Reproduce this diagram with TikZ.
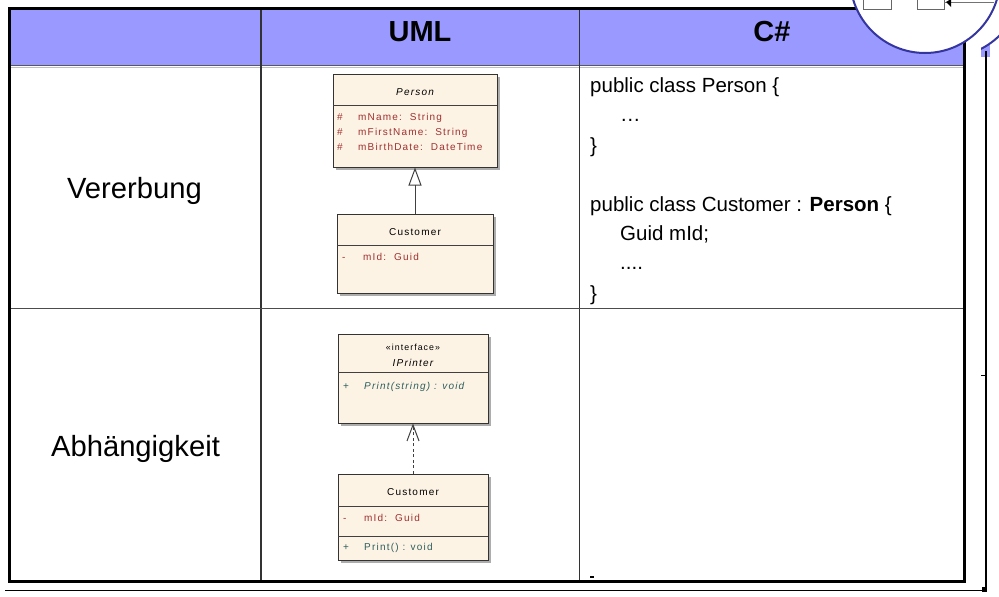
\documentclass[tikz,border=0pt]{standalone}
\usepackage{fontspec}
\setmainfont{Liberation Sans}
\newfontfamily\umlfont[LetterSpace=12]{Liberation Sans}
\usetikzlibrary{arrows.meta}
\definecolor{hdr}{HTML}{9999FF}
\definecolor{boxfill}{HTML}{FCF3E4}
\definecolor{attr}{HTML}{A03030}
\definecolor{oper}{HTML}{2E5E5E}
\definecolor{ring}{HTML}{3535A0}
\newcommand{\vis}[1]{\makebox[21pt][l]{#1}}
\tikzset{
  umlbox/.style={draw=black!80, line width=1pt, fill=boxfill, inner sep=0pt},
  sep/.style={draw=black!75, line width=0.9pt},
  umltxt/.style={inner sep=0pt, font=\umlfont\fontsize{10}{12}\selectfont},
  umlital/.style={inner sep=0pt, font=\umlfont\itshape\fontsize{10}{12}\selectfont},
  umlrow/.style={inner sep=0pt, anchor=base west, font=\umlfont\fontsize{10}{12}\selectfont},
  codetxt/.style={inner sep=0pt, anchor=base west, font=\fontsize{20.5}{24}\selectfont},
  headtxt/.style={inner sep=0pt, font=\bfseries\fontsize{29}{33}\selectfont},
  rowtxt/.style={inner sep=0pt, font=\fontsize{29.2}{33}\selectfont},
  gridline/.style={draw=black!80, line width=1.2pt},
  shadowfill/.style={fill=black!32},
}
\begin{document}
\begin{tikzpicture}[x=1pt,y=-1pt]
\useasboundingbox (0,0) rectangle (999,597);
% header fill
\fill[hdr] (11,10) rectangle (963,65);
\draw[black!65, line width=1.5pt] (11,65.5) -- (963,65.5);
\draw[black!25, line width=1pt] (11,67.3) -- (963,67.3);
% grid lines
\draw[gridline] (261,10) -- (261,580);
\draw[gridline] (579.5,10) -- (579.5,580);
\draw[black!70, line width=1pt] (11,308.5) -- (963,308.5);
% table frame
\draw[black, line width=3pt] (9.5,8.5) rectangle (964.5,581);
% second (shifted) frame at the right
\begin{scope}
  \clip (981,0) rectangle (999,60);
  \fill[hdr] (981,0) rectangle (990,57);
  \draw[ring, line width=2pt, fill=white] (947,-18) circle (75);
\end{scope}
% outer frame
\draw[black, line width=2pt] (986,51) -- (986,591);
\draw[black, line width=1.6pt] (5,590.5) -- (987,590.5);
\fill[black] (982,586.5) rectangle (987,592);
\draw[black, line width=1pt] (981,375) -- (986,375);
\draw[black, line width=1.2pt] (590,577) -- (594,577);
% magnifier circle
\draw[ring, line width=2pt, fill=white] (925,-22) circle (75);
\draw[black!60, line width=1pt, fill=white] (863,-2) rectangle (891,9.5);
\draw[black!60, line width=1pt, fill=white] (917,-2) rectangle (944,9.5);
\draw[black!55, line width=1pt] (944,2) -- (994,2);
\fill[black] (946,2) -- (951,-1) -- (951,7) -- cycle;
% headers
\node[headtxt] (uml) at (420,32) {UML};
\node[headtxt] (cs) at (772,32) {C\#};
% row labels
\node[rowtxt] (vererbung) at (134.5,191) {Vererbung};
\node[rowtxt] (abh) at (135.5,448.5) {Abhängigkeit};
% C# code
\node[codetxt] (c1) at (590,92) {public class Person \{};
\node[codetxt] (c2) at (620,121) {…};
\node[codetxt] (c3) at (590,152) {\}};
\node[codetxt] (c4) at (590,211) {public class Customer : \textbf{Person} \{};
\node[codetxt] (c5) at (620,240) {Guid mId;};
\node[codetxt] (c6) at (620,269) {....};
\node[codetxt] (c7) at (590,300) {\}};
% ---- UML inheritance ----
\fill[shadowfill] (336,77) rectangle (500,170);
\node[umlbox, minimum width=164pt, minimum height=93pt] (person) at (415,120.5) {};
\draw[sep] (333,105) -- (497,105);
\node[umlital] (pname) at (415,92) {Person};
\node[umlrow, text=attr] (pa1) at (337,120.5) {\vis{\#}mName:\ \ String};
\node[umlrow, text=attr] (pa2) at (337,135.5) {\vis{\#}mFirstName:\ \ String};
\node[umlrow, text=attr] (pa3) at (337,150.5) {\vis{\#}mBirthDate:\ \ DateTime};
\fill[shadowfill] (340,217) rectangle (496,296);
\node[umlbox, minimum width=156pt, minimum height=79pt] (cust1) at (415,253.5) {};
\draw[sep] (337,245) -- (493,245);
\node[umltxt] (c1name) at (415,232) {Customer};
\node[umlrow, text=attr] (c1a) at (342,260.5) {\vis{-}mId:\ \ Guid};
\draw[black!75, line width=1pt, -{Triangle[open, width=13pt, length=18pt, line width=1pt]}] (cust1.north) -- (person.south);
% ---- UML dependency ----
\fill[shadowfill] (341,337) rectangle (491,426);
\node[umlbox, minimum width=150pt, minimum height=89pt] (iprinter) at (413,378.5) {};
\draw[sep] (338,372) -- (488,372);
\node[umltxt, font=\umlfont\fontsize{8.8}{10}\selectfont] (stereo) at (413,347) {«interface»};
\node[umlital] (iname) at (413,363) {IPrinter};
\node[umlrow, text=oper] (iop) at (343,389.5) {\vis{+}\textit{Print(string) : void}};
\fill[shadowfill] (341,477) rectangle (491,563);
\node[umlbox, minimum width=150pt, minimum height=86pt] (cust2) at (413,517) {};
\draw[sep] (338,506) -- (488,506);
\draw[sep] (338,536) -- (488,536);
\node[umltxt] (c2name) at (413,492) {Customer};
\node[umlrow, text=attr] (c2a) at (343,521.5) {\vis{-}mId:\ \ Guid};
\node[umlrow, text=oper] (c2o) at (343,550.5) {\vis{+}Print() : void};
\draw[black!75, line width=1pt, dash pattern=on 3pt off 2.5pt, -{Straight Barb[width=12pt, length=16pt, line width=1pt]}] (cust2.north) -- (iprinter.south);
\end{tikzpicture}
\end{document}
